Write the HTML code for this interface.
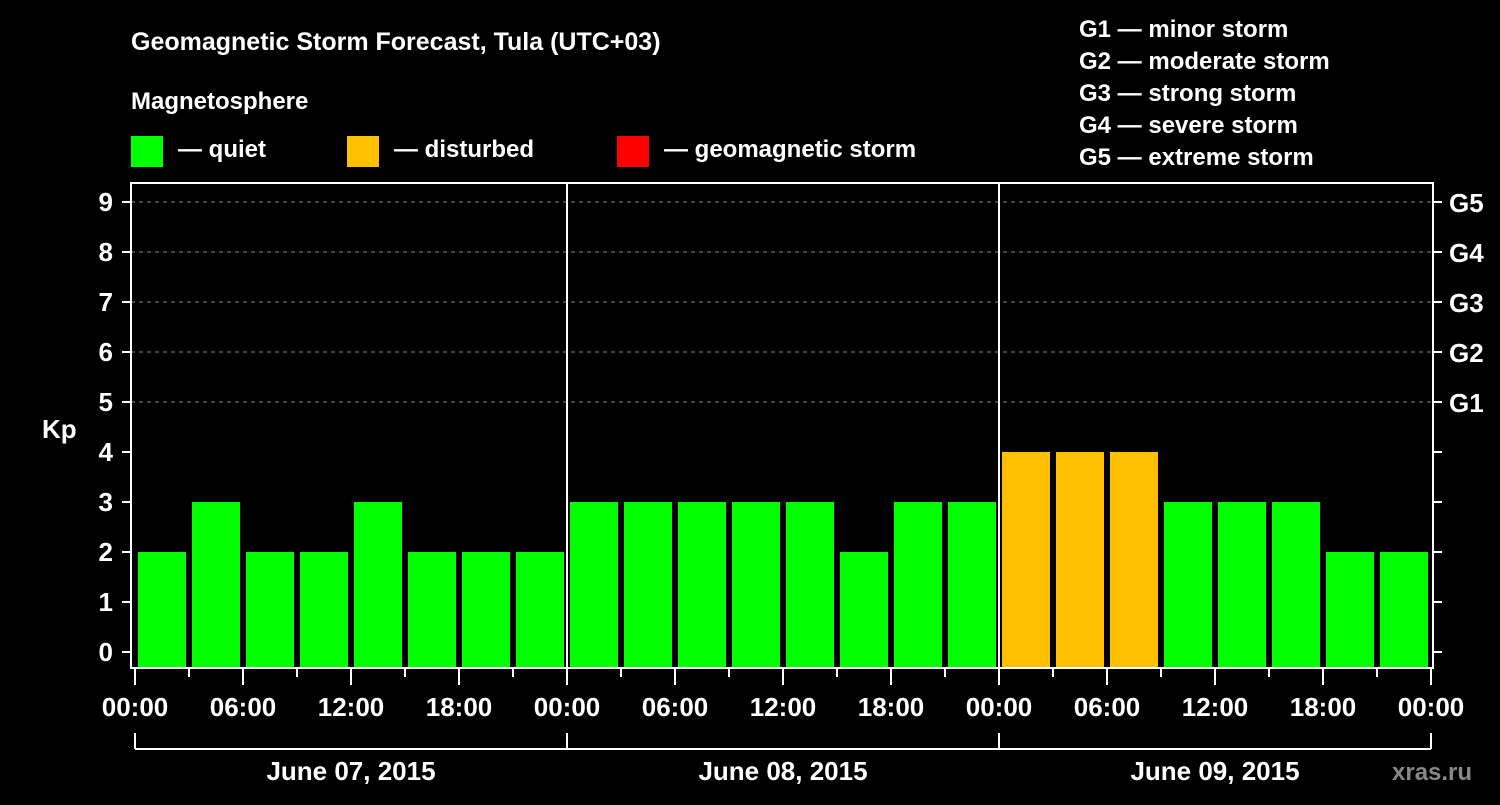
<!DOCTYPE html>
<html><head><meta charset="utf-8"><style>
body{margin:0;background:#000;width:1500px;height:800px;overflow:hidden}
svg text{font-family:"Liberation Sans",sans-serif;font-weight:bold;fill:#fff}
</style></head><body>
<svg id="c" width="1500" height="800" xmlns="http://www.w3.org/2000/svg">
<text x="131" y="50" font-size="25">Geomagnetic Storm Forecast, Tula (UTC+03)</text>
<text x="131" y="109" font-size="24">Magnetosphere</text>
<rect x="131" y="136" width="32" height="31" fill="#00ff00"/>
<text x="178" y="157" font-size="24">— quiet</text>
<rect x="347" y="136" width="32" height="31" fill="#ffc000"/>
<text x="394" y="157" font-size="24">— disturbed</text>
<rect x="617" y="136" width="32" height="31" fill="#ff0000"/>
<text x="664" y="157" font-size="24">— geomagnetic storm</text>
<g font-size="24">
<text x="1079" y="37">G1 — minor storm</text>
<text x="1079" y="69">G2 — moderate storm</text>
<text x="1079" y="101">G3 — strong storm</text>
<text x="1079" y="133">G4 — severe storm</text>
<text x="1079" y="165">G5 — extreme storm</text>
</g>
<text x="42" y="438" font-size="26">Kp</text>
<text x="1392" y="780" font-size="24" fill="#888" style="fill:#888">xras.ru</text>
<g id="plot"></g>
</svg>
<script>
const values=[2,3,2,2,3,2,2,2, 3,3,3,3,3,2,3,3, 4,4,4,3,3,3,2,2];
const yTicks=[0,1,2,3,4,5,6,7,8,9];
const gLabels=["G1","G2","G3","G4","G5"];
const xLabels=["00:00","06:00","12:00","18:00","00:00","06:00","12:00","18:00","00:00","06:00","12:00","18:00","00:00"];
const days=["June 07, 2015","June 08, 2015","June 09, 2015"];
const NS="http://www.w3.org/2000/svg";
const g=document.getElementById('plot');
const L=131,R=1433,T=183,B=668,X0=135,step=54;
const y=v=>652-50*v, x=i=>X0+step*i;
function el(t,a){const e=document.createElementNS(NS,t);for(const k in a)e.setAttribute(k,a[k]);g.appendChild(e);return e;}
yTicks.forEach(v=>{
 if(v>=5){const l=el('line',{x1:L,x2:R,y1:y(v),y2:y(v),stroke:'#888','stroke-dasharray':'4,4'});
 
 }
 el('line',{x1:122,x2:L,y1:y(v),y2:y(v),stroke:'#fff','stroke-width':2});
 el('line',{x1:R,x2:1442,y1:y(v),y2:y(v),stroke:'#fff','stroke-width':2});
 const t=el('text',{x:113,y:y(v)+9,'text-anchor':'end','font-size':26});t.textContent=v;
 
 
});
gLabels.forEach((s,i)=>{const t=el('text',{x:1449,y:y(5+i)+10,'font-size':26});t.textContent=s;
 
 });
values.forEach((v,i)=>{const r=el('rect',{x:x(i)+3,y:y(v),width:48,height:B-y(v),fill:v>=5?'#ff0000':v>=4?'#ffc000':'#00ff00'});
 
 });
el('rect',{x:L,y:T,width:R-L,height:B-T,fill:'none',stroke:'#fff','stroke-width':2});
[1,2].forEach(d=>el('line',{x1:x(8*d),x2:x(8*d),y1:T,y2:B,stroke:'#fff','stroke-width':2}));
for(let i=0;i<=24;i++){el('line',{x1:x(i),x2:x(i),y1:B,y2:i%2?677:685,stroke:'#fff','stroke-width':2});}
xLabels.forEach((s,i)=>{const t=el('text',{x:x(2*i),y:716,'text-anchor':'middle','font-size':26});t.textContent=s;
 
 });
el('line',{x1:x(0),x2:x(24),y1:749,y2:749,stroke:'#fff','stroke-width':2});
for(let d=0;d<=3;d++)el('line',{x1:x(8*d),x2:x(8*d),y1:733,y2:749,stroke:'#fff','stroke-width':2});
days.forEach((s,d)=>{const t=el('text',{x:x(8*d+4),y:780,'text-anchor':'middle','font-size':26});t.textContent=s;
 
 });
</script>
</body></html>
